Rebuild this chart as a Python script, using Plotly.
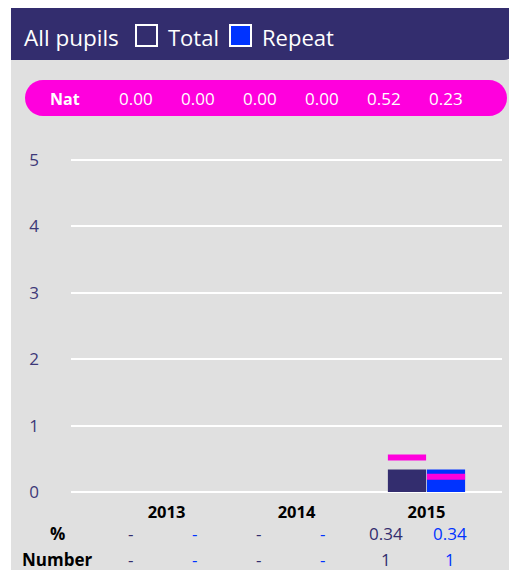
import plotly.graph_objects as go

# ── data ──
years = ['2013', '2014', '2015']
total_pct = [None, None, 0.34]
repeat_pct = [None, None, 0.34]
total_num = [None, None, 1]
repeat_num = [None, None, 1]
nat_total = [0.00, 0.00, 0.52]
nat_repeat = [0.00, 0.00, 0.23]
y_ticks = [0, 1, 2, 3, 4, 5]

# ── style ──
PURPLE = '#332d6e'
BLUE = '#0033ff'
MAGENTA = '#ff00dd'
GRAY = '#e0e0e0'
TICK = '#3d3878'
FONT = 'Open Sans, Noto Sans, sans-serif'
NAT_THICK = 0.09

# figure sits at (8, 8) in the page because of the body margin
W, H = 509, 562
OX, OY = 8, 8


def fx(px):
    return (px - OX) / W


def fy(py):
    return 1 - (py - OY) / H


def rounded_path(x0, y0, x1, y1, r_tl=0, r_tr=0, r_br=0, r_bl=0):
    """Rounded rectangle path in page pixels, returned in paper coords."""
    k = 0.5523

    def p(x, y):
        return f'{fx(x):.5f},{fy(y):.5f}'

    d = [f'M{p(x0 + r_tl, y0)}', f'L{p(x1 - r_tr, y0)}']
    if r_tr:
        d.append(f'C{p(x1 - r_tr + k * r_tr, y0)} {p(x1, y0 + r_tr - k * r_tr)} {p(x1, y0 + r_tr)}')
    d.append(f'L{p(x1, y1 - r_br)}')
    if r_br:
        d.append(f'C{p(x1, y1 - r_br + k * r_br)} {p(x1 - r_br + k * r_br, y1)} {p(x1 - r_br, y1)}')
    d.append(f'L{p(x0 + r_bl, y1)}')
    if r_bl:
        d.append(f'C{p(x0 + r_bl - k * r_bl, y1)} {p(x0, y1 - r_bl + k * r_bl)} {p(x0, y1 - r_bl)}')
    d.append(f'L{p(x0, y0 + r_tl)}')
    if r_tl:
        d.append(f'C{p(x0, y0 + r_tl - k * r_tl)} {p(x0 + r_tl - k * r_tl, y0)} {p(x0 + r_tl, y0)}')
    d.append('Z')
    return ' '.join(d)


def label(text, px, py, size, color, anchor='center'):
    return dict(text=text, x=fx(px), y=fy(py), xref='paper', yref='paper',
                xanchor=anchor, yanchor='middle', showarrow=False,
                font=dict(family=FONT, size=size, color=color))


xs = list(range(len(years)))
nat_total_plot = [n if v is not None else None for n, v in zip(nat_total, total_pct)]
nat_repeat_plot = [n if v is not None else None for n, v in zip(nat_repeat, repeat_pct)]

fig = go.Figure()

fig.add_trace(go.Bar(x=xs, y=total_pct, name='Total', offsetgroup='total',
                     marker=dict(color=PURPLE, line=dict(width=0))))
fig.add_trace(go.Bar(x=xs, y=repeat_pct, name='Repeat', offsetgroup='repeat',
                     marker=dict(color=BLUE, line=dict(width=0))))

# national markers (thin bars overlaid on the matching bar)
fig.add_trace(go.Bar(x=xs, y=[NAT_THICK if n is not None else None for n in nat_total_plot],
                     base=[n - NAT_THICK / 2 if n is not None else None for n in nat_total_plot],
                     offsetgroup='total', marker=dict(color=MAGENTA, line=dict(width=0))))
fig.add_trace(go.Bar(x=xs, y=[NAT_THICK if n is not None else None for n in nat_repeat_plot],
                     base=[n - NAT_THICK / 2 if n is not None else None for n in nat_repeat_plot],
                     offsetgroup='repeat', marker=dict(color=MAGENTA, line=dict(width=0))))

shapes = [
    # grey panel
    dict(type='rect', xref='paper', yref='paper', x0=fx(11), x1=fx(517), y0=fy(570), y1=fy(60),
         fillcolor=GRAY, line=dict(width=0), layer='below'),
    # header band
    dict(type='path', xref='paper', yref='paper', path=rounded_path(11, 8, 517, 60, r_br=13),
         fillcolor=PURPLE, line=dict(width=0), layer='below'),
    # Nat pill
    dict(type='path', xref='paper', yref='paper', path=rounded_path(25, 80, 507, 116, 18, 18, 18, 18),
         fillcolor=MAGENTA, line=dict(width=0), layer='below'),
    # legend boxes
    dict(type='rect', xref='paper', yref='paper', x0=fx(136), x1=fx(157), y0=fy(46), y1=fy(25),
         fillcolor=PURPLE, line=dict(color='white', width=2)),
    dict(type='rect', xref='paper', yref='paper', x0=fx(230), x1=fx(251), y0=fy(46), y1=fy(25),
         fillcolor=BLUE, line=dict(color='white', width=2)),
]

annotations = [
    label('All pupils', 22, 37, 22.5, 'white', 'left'),
    label('Total', 166, 37, 22, 'white', 'left'),
    label('Repeat', 260, 37, 22, 'white', 'left'),
]

# Nat row
nat_row = [v for pair in zip(nat_total, nat_repeat) for v in pair]
annotations.append(label('<b>Nat</b>', 65, 99, 16, 'white'))
for i, v in enumerate(nat_row):
    annotations.append(label(f'{v:.2f}', 136 + 62 * i, 99, 17, 'white'))

# table rows under the axis
pct_row = [v for pair in zip(total_pct, repeat_pct) for v in pair]
num_row = [v for pair in zip(total_num, repeat_num) for v in pair]
for name, row, py, fmt in (('%', pct_row, 533, '{:.2f}'), ('Number', num_row, 559, '{}')):
    annotations.append(label(f'<b>{name}</b>', 57, py, 17, 'black'))
    for i, v in enumerate(row):
        color = PURPLE if i % 2 == 0 else BLUE
        annotations.append(label('-' if v is None else fmt.format(v), 130 + 64 * i, py, 17, color))

fig.update_layout(
    width=W, height=H,
    margin=dict(l=0, r=0, t=0, b=0),
    paper_bgcolor='white',
    plot_bgcolor='rgba(0,0,0,0)',
    barmode='group',
    bargap=0.4,
    bargroupgap=0.02,
    showlegend=False,
    shapes=shapes,
    annotations=annotations,
    font=dict(family=FONT),
)

fig.update_xaxes(
    domain=[fx(71), fx(502)],
    range=[-0.735, 2.581],
    tickvals=xs,
    ticktext=[f'<b>{y}</b>' for y in years],
    tickfont=dict(family=FONT, size=16.5, color='black'),
    showgrid=False, zeroline=False, showline=False, ticks='',
    automargin=False,
)
fig.update_yaxes(
    domain=[fy(500), fy(140)],
    range=[-0.1205, 5.301],
    tickvals=y_ticks,
    tickfont=dict(family=FONT, size=17, color=TICK),
    ticklabelstandoff=31,
    showgrid=True, gridcolor='white', gridwidth=1.5,
    zeroline=True, zerolinecolor='white', zerolinewidth=2,
    showline=False, ticks='',
    automargin=False,
)

fig.write_html('out.html')
